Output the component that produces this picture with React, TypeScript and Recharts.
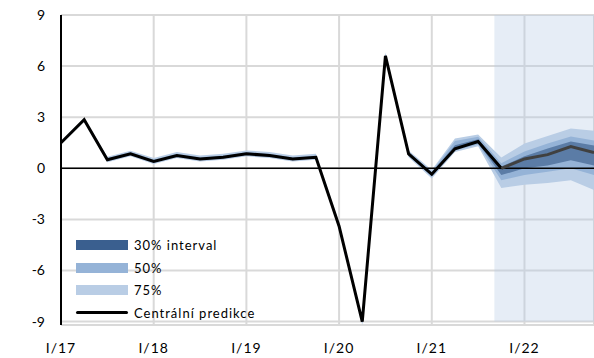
import { ComposedChart, Area, Line, XAxis, YAxis, CartesianGrid, ReferenceLine, ReferenceArea } from 'recharts'

// quarters I/17 .. IV/22
const quarters = [
  'I/17', 'II/17', 'III/17', 'IV/17',
  'I/18', 'II/18', 'III/18', 'IV/18',
  'I/19', 'II/19', 'III/19', 'IV/19',
  'I/20', 'II/20', 'III/20', 'IV/20',
  'I/21', 'II/21', 'III/21', 'IV/21',
  'I/22', 'II/22', 'III/22', 'IV/22',
]

const central = [1.5, 2.85, 0.5, 0.85, 0.4, 0.75, 0.55, 0.65, 0.85, 0.75, 0.55, 0.65, -3.4, -9.0, 6.6, 0.85, -0.35, 1.15, 1.57, 0.0, 0.55, 0.8, 1.28, 0.92]

const hi75 = [1.6, 2.95, 0.68, 1.03, 0.6, 0.95, 0.75, 0.85, 1.05, 0.95, 0.75, 0.85, -3.2, -8.8, 6.8, 1.05, -0.1, 1.75, 1.98, 0.63, 1.45, 1.9, 2.33, 2.2]
const lo75 = [1.4, 2.75, 0.35, 0.7, 0.25, 0.6, 0.4, 0.5, 0.7, 0.6, 0.4, 0.5, -3.6, -9.2, 6.4, 0.65, -0.6, 0.95, 1.3, -1.16, -0.97, -0.87, -0.7, -1.28]
const hi50 = [1.55, 2.9, 0.6, 0.95, 0.5, 0.85, 0.65, 0.75, 0.95, 0.85, 0.65, 0.75, -3.3, -8.9, 6.7, 0.95, -0.2, 1.6, 1.85, 0.3, 0.98, 1.45, 1.86, 1.63]
const lo50 = [1.45, 2.8, 0.42, 0.77, 0.32, 0.67, 0.47, 0.57, 0.77, 0.67, 0.47, 0.57, -3.5, -9.1, 6.5, 0.75, -0.5, 1.05, 1.4, -0.7, -0.4, -0.2, 0.0, -0.4]
const hi30 = [1.52, 2.87, 0.55, 0.9, 0.45, 0.8, 0.6, 0.7, 0.9, 0.8, 0.6, 0.7, -3.35, -8.95, 6.65, 0.9, -0.25, 1.35, 1.7, 0.1, 0.7, 1.16, 1.57, 1.34]
const lo30 = [1.48, 2.83, 0.45, 0.8, 0.35, 0.7, 0.5, 0.6, 0.8, 0.7, 0.5, 0.6, -3.45, -9.05, 6.55, 0.8, -0.45, 1.1, 1.5, -0.4, 0.0, 0.17, 0.47, 0.17]

const forecastFrom = 19
const yTicks = [-9, -6, -3, 0, 3, 6, 9]
const xTicks = [0, 4, 8, 12, 16, 20]

const data = quarters.map((q, i) => ({
  i,
  q,
  band75: [lo75[i], hi75[i]],
  band50: [lo50[i], hi50[i]],
  band30: [lo30[i], hi30[i]],
  actual: i <= forecastFrom ? central[i] : null,
  forecast: i >= forecastFrom ? central[i] : null,
}))

const legendItems = [
  { label: '30% interval', color: '#3a5f8f', line: false },
  { label: '50%', color: '#95b3d7', line: false },
  { label: '75%', color: '#b9cde5', line: false },
  { label: 'Centrální predikce', color: '#000', line: true },
]

const font = 'Lato, "Open Sans", sans-serif'

export default function App() {
  return (
    <div style={{ position: 'absolute', left: 0, top: 0, width: 594, height: 358, background: '#fff', fontFamily: font }}>
      <ComposedChart width={594} height={358} data={data} margin={{ top: 15, right: 0, bottom: 0, left: 0 }}>
        <CartesianGrid stroke="#d9d9d9" strokeWidth={2} />
        {/* forecast period shading, translucent so the grid shows through */}
        <ReferenceArea x1={18.7} x2={23} y1={-9} y2={9} fill="#b8cce6" fillOpacity={0.35} stroke="none" />
        <XAxis
          type="number"
          dataKey="i"
          domain={[0, 23]}
          ticks={xTicks}
          tickFormatter={(v) => quarters[v]}
          axisLine={false}
          tickLine={false}
          tickSize={0}
          tickMargin={18}
          height={33}
          tick={{ fill: '#000', fontSize: 14, fontFamily: font, letterSpacing: 1 }}
          allowDataOverflow
        />
        <YAxis
          domain={[-9, 9]}
          ticks={yTicks}
          axisLine={{ stroke: '#000', strokeWidth: 2 }}
          tickLine={false}
          tickSize={0}
          tickMargin={16}
          width={61}
          tick={{ fill: '#000', fontSize: 14, fontFamily: font }}
        />
        <Area dataKey="band75" fill="#b9cde5" fillOpacity={1} stroke="none" isAnimationActive={false} />
        <Area dataKey="band50" fill="#95b3d7" fillOpacity={1} stroke="none" isAnimationActive={false} />
        <Area dataKey="band30" fill="#5b7ca6" fillOpacity={1} stroke="none" isAnimationActive={false} />
        <ReferenceLine y={0} stroke="#000" strokeWidth={1.5} />
        <Line dataKey="actual" stroke="#000" strokeWidth={3} dot={false} isAnimationActive={false} connectNulls={false} />
        <Line dataKey="forecast" stroke="#404040" strokeWidth={3} dot={false} isAnimationActive={false} connectNulls={false} />
      </ComposedChart>
      <div style={{ position: 'absolute', left: 76, top: 234 }}>
        {legendItems.map((it) => (
          <div key={it.label} style={{ display: 'flex', alignItems: 'center', height: 22.5 }}>
            <div style={{ width: 52, height: it.line ? 3 : 10, background: it.color, borderRadius: it.line ? 2 : 0 }} />
            <span style={{ marginLeft: 6, fontSize: 13, letterSpacing: 1, color: '#000' }}>{it.label}</span>
          </div>
        ))}
      </div>
    </div>
  )
}
